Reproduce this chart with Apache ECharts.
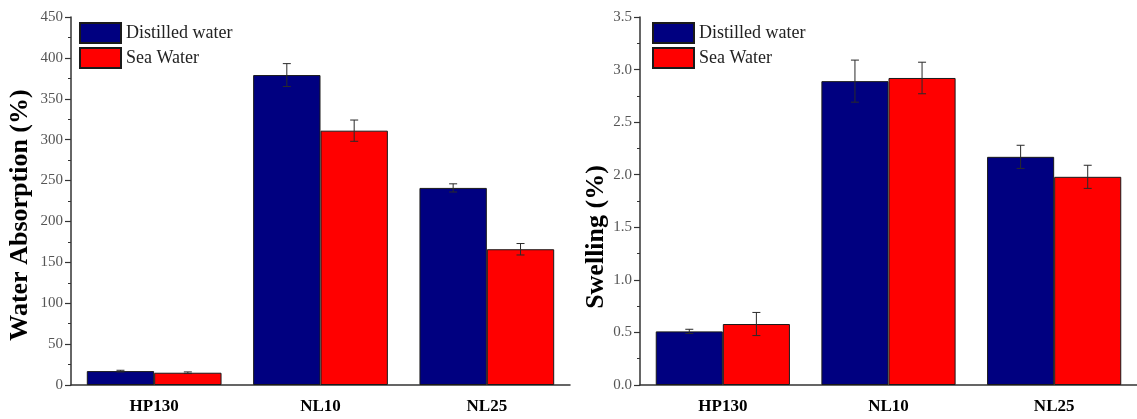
<!DOCTYPE html>
<html>
<head>
<meta charset="utf-8">
<script src="https://cdn.jsdelivr.net/npm/echarts@6/dist/echarts.min.js"></script>
<style>
  html, body { margin: 0; padding: 0; background: #fff; }
  #chart { width: 1137px; height: 419px; }
</style>
</head>
<body>
<div id="chart"></div>
<script>
// Sample groups on the category axis
const categories = ['HP130', 'NL10', 'NL25'];

// Water absorption (%) with standard deviation
const absorptionDistilled = [17, 379, 241];
const absorptionDistilledErr = [1, 14, 5];
const absorptionSea = [15, 311, 166];
const absorptionSeaErr = [1, 13, 7];

// Swelling (%) with standard deviation
const swellingDistilled = [0.51, 2.89, 2.17];
const swellingDistilledErr = [0.02, 0.20, 0.11];
const swellingSea = [0.58, 2.92, 1.98];
const swellingSeaErr = [0.11, 0.15, 0.11];

// Axis ranges and tick steps
const absorptionTicks = { min: 0, max: 450, interval: 50 };
const swellingTicks = { min: 0, max: 3.5, interval: 0.5 };

const SERIF = '"Liberation Serif", "Times New Roman", serif';
const NAVY = '#000080';
const RED = '#ff0000';
const AXIS = '#333';
const GAP = 0.19;

const chart = echarts.init(document.getElementById('chart'));

// Error bar (mean ± sd) drawn over one bar of a two-bar group
function errorBars(side) {
  return function (params, api) {
    const i = api.value(0), v = api.value(1), e = api.value(2);
    const band = api.size([1, 0])[0];
    const bw = band * (1 - GAP) / 2;
    const x = api.coord([i, v])[0] + side * bw / 2;
    const top = api.coord([i, v + e])[1];
    const bot = api.coord([i, v - e])[1];
    const cap = 4;
    const style = { stroke: '#2a2a2a', lineWidth: 1 };
    return {
      type: 'group',
      children: [
        { type: 'line', shape: { x1: x, y1: top, x2: x, y2: bot }, style },
        { type: 'line', shape: { x1: x - cap, y1: top, x2: x + cap, y2: top }, style },
        { type: 'line', shape: { x1: x - cap, y1: bot, x2: x + cap, y2: bot }, style }
      ]
    };
  };
}

function xAxes(gridIndex) {
  return [
    {
      type: 'category', gridIndex, data: categories,
      axisLine: { lineStyle: { color: AXIS, width: 1.5 } },
      axisTick: { alignWithLabel: true, length: 6, lineStyle: { color: AXIS, width: 1.2 } },
      axisLabel: { color: '#000', fontFamily: SERIF, fontWeight: 'bold', fontSize: 17, margin: 13 },
      splitLine: { show: false }
    },
    {
      type: 'category', gridIndex, data: categories, position: 'bottom',
      axisLine: { show: false },
      axisTick: { inside: true, length: 4, lineStyle: { color: AXIS, width: 1 } },
      axisLabel: { show: false },
      splitLine: { show: false }
    }
  ];
}

// shift moves the rotated title down the axis by that many pixels
function yAxis(gridIndex, ticks, name, nameGap, digits, shift) {
  return {
    type: 'value', gridIndex, min: ticks.min, max: ticks.max, interval: ticks.interval,
    name, nameLocation: 'middle', nameRotate: 90, nameGap,
    nameTextStyle: {
      fontFamily: SERIF, fontWeight: 'bold', fontSize: 26, color: '#000',
      padding: [0, 2 * shift, 0, 0]
    },
    axisLine: { show: true, lineStyle: { color: AXIS, width: 1.5 } },
    axisTick: { show: true, length: 6, lineStyle: { color: AXIS, width: 1.2 } },
    minorTick: { show: true, splitNumber: 2, length: 3, lineStyle: { color: AXIS, width: 1 } },
    axisLabel: {
      color: '#555', fontFamily: SERIF, fontSize: 15, margin: 8,
      formatter: v => v.toFixed(digits)
    },
    splitLine: { show: false }
  };
}

function bars(name, values, color, xi, yi) {
  return {
    type: 'bar', name, data: values, xAxisIndex: xi, yAxisIndex: yi,
    barGap: '0%', barCategoryGap: (GAP * 100) + '%',
    itemStyle: { color, borderColor: '#1a1a1a', borderWidth: 1 },
    emphasis: { disabled: true }
  };
}

function errors(values, errs, side, xi, yi) {
  return {
    type: 'custom', xAxisIndex: xi, yAxisIndex: yi, z: 5,
    renderItem: errorBars(side),
    encode: { x: 0, y: 1 },
    data: categories.map((c, i) => [i, values[i], errs[i]]),
    silent: true
  };
}

const legendStyle = {
  orient: 'vertical', itemWidth: 41, itemHeight: 20, itemGap: 3, padding: 0,
  icon: 'rect',
  textStyle: { fontFamily: SERIF, fontSize: 18, color: '#222' },
  data: ['Distilled water', 'Sea Water'],
  selectedMode: false
};

chart.setOption({
  animation: false,
  backgroundColor: '#fff',
  grid: [
    { left: 71, top: 17, width: 499, height: 368 },
    { left: 640, top: 17, width: 499, height: 368 }
  ],
  legend: [
    Object.assign({ left: 79, top: 22 }, legendStyle),
    Object.assign({ left: 652, top: 22 }, legendStyle)
  ],
  xAxis: [...xAxes(0), ...xAxes(1)],
  yAxis: [
    yAxis(0, absorptionTicks, 'Water Absorption (%)', 38, 0, 14),
    yAxis(1, swellingTicks, 'Swelling (%)', 31, 1, 36)
  ],
  series: [
    bars('Distilled water', absorptionDistilled, NAVY, 0, 0),
    bars('Sea Water', absorptionSea, RED, 0, 0),
    errors(absorptionDistilled, absorptionDistilledErr, -1, 0, 0),
    errors(absorptionSea, absorptionSeaErr, 1, 0, 0),
    bars('Distilled water', swellingDistilled, NAVY, 2, 1),
    bars('Sea Water', swellingSea, RED, 2, 1),
    errors(swellingDistilled, swellingDistilledErr, -1, 2, 1),
    errors(swellingSea, swellingSeaErr, 1, 2, 1)
  ]
});
</script>
</body>
</html>
